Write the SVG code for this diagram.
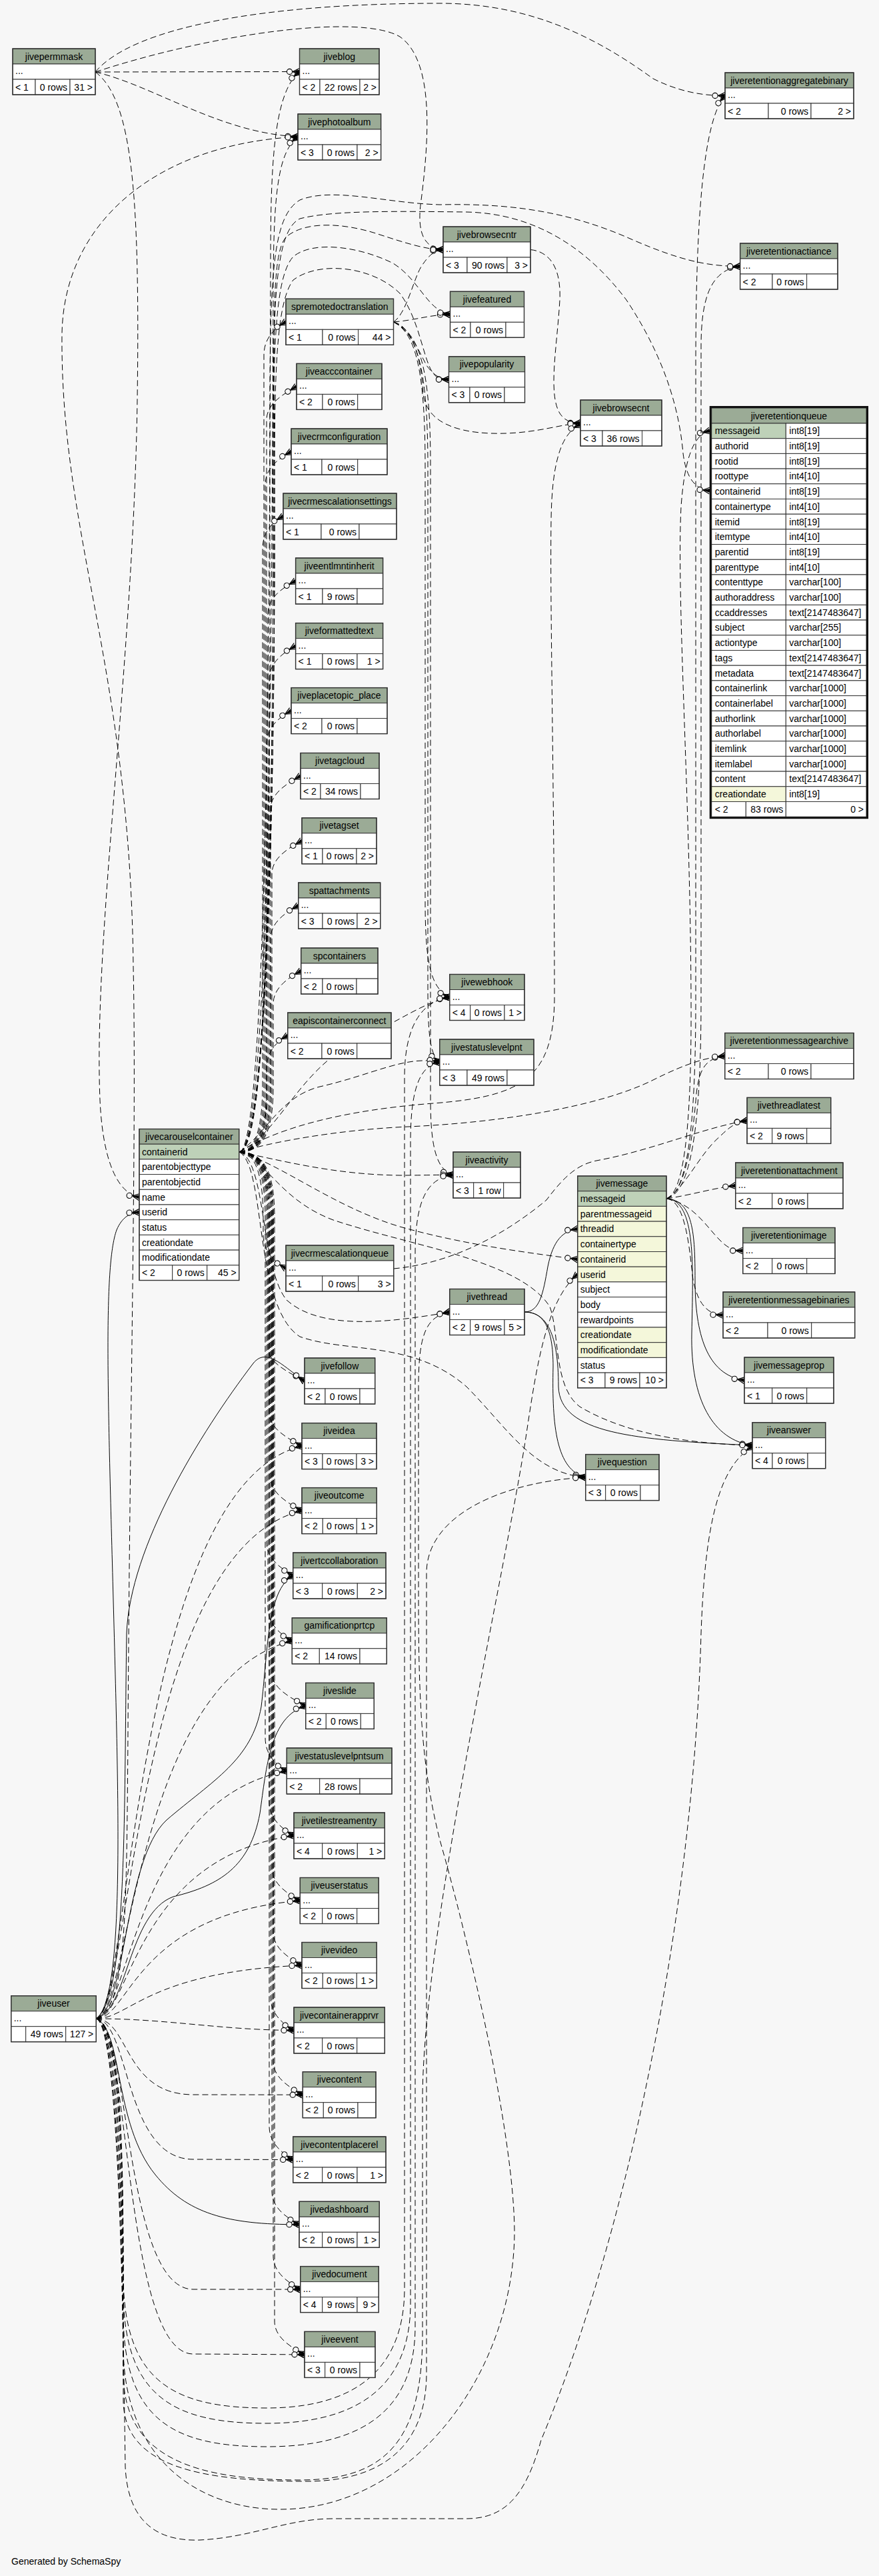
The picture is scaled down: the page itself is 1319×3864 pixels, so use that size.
<svg xmlns="http://www.w3.org/2000/svg" width="1319" height="3864" viewBox="0 0 1319 3864">
<style>
text{font-family:"Liberation Sans",Arial,Helvetica,sans-serif;font-size:14px;fill:#000}
.c{text-anchor:middle}
.r{text-anchor:end}
.h{fill:#9bab96;stroke:#333;stroke-width:1}
.w{fill:#fff;stroke:#333;stroke-width:1}
.k{fill:#bed1b8;stroke:#333;stroke-width:1}
.i{fill:#f4f7da;stroke:#333;stroke-width:1}
.o{fill:none;stroke:#333;stroke-width:1.4}
.e{fill:none;stroke:#000;stroke-width:1;marker-end:url(#cf)}
.d{stroke-dasharray:9,5}
</style>
<defs>
<marker id="cf" markerUnits="userSpaceOnUse" markerWidth="26" markerHeight="16" refX="23" refY="8" orient="auto" overflow="visible">
<circle cx="8" cy="8" r="4.1" fill="#f7f7f7" stroke="#000" stroke-width="1.1"/>
<path d="M12.5,8 L23,8 M12.5,8 L23,3 M12.5,8 L23,13" stroke="#000" stroke-width="1.2" fill="none"/>
<path d="M12.5,8 L23,5 L23,11 Z" fill="#000"/>
</marker>
</defs>
<rect width="1319" height="3864" fill="#f7f7f7"/>
<g id="edges">
<path class="e d" d="M143,108 L449.5,107.5"/>
<path class="e d" d="M143,108 C230,128 330,200 447,205"/>
<path class="e d" d="M143,108 C200,40 400,5 660,5 C800,5 900,60 980,118 C1020,138 1055,143.5 1088,143.5"/>
<path class="e d" d="M143,108 C320,50 540,20 600,55 C650,90 645,200 632,300 C624,355 640,372 665,374.5"/>
<path class="e d" d="M143,108 C200,150 210,300 206,600 C200,1000 140,1400 150,1650 C155,1760 185,1792 209,1795.6"/>
<path class="e d" d="M144,3028 C188,3010 190,2900 192,2600 C195,2100 205,1700 200,1450 C195,1000 90,800 93,500 C96,330 240,215 447,205.2"/>
<path class="e d" d="M1000,1798 C1025,1790 1038,1700 1037,1500 C1036,1200 1015,900 1022,760 C1027,690 1040,652 1065,646"/>
<path class="e d" d="M1000,1798 C1030,1790 1044,1700 1044,1500 L1044,550 C1044,330 1055,180 1088,143.5"/>
<path class="e d" d="M1000,1798 C1035,1790 1052,1700 1052,1500 L1052,520 C1052,450 1065,405 1110.6,399.5"/>
<path class="e d" d="M1000,1798 C1030,1790 1040,1700 1045,1640 C1050,1600 1060,1588 1087.7,1584"/>
<path class="e d" d="M1000,1798 C1030,1780 1050,1730 1080,1705 C1095,1690 1105,1683 1121,1681"/>
<path class="e d" d="M1000,1798 C1040,1792 1070,1782 1103.7,1778.5"/>
<path class="e d" d="M1000,1798 C1040,1805 1060,1840 1080,1860 C1092,1872 1100,1876 1114.7,1876"/>
<path class="e d" d="M1000,1798 C1030,1800 1035,1880 1040,1920 C1048,1960 1065,1972 1085,1972.5"/>
<path class="e" d="M1000,1798 C1040,1800 1043,1850 1043,1920 C1043,2000 1060,2062 1117,2070.5"/>
<path class="e" d="M1000,1798 C1045,1800 1040,1900 1038,2000 C1036,2100 1070,2160 1129,2168"/>
<path class="e" d="M787,1968 C810,1968 815,1940 822,1900 C830,1860 845,1846 866.7,1843.5"/>
<path class="e" d="M787,1968 C815,1968 830,1990 830,2050 C828,2140 835,2205 878.7,2216"/>
<path class="e" d="M787,1968 C820,1968 838,2000 838,2080 C840,2150 950,2160 1129,2168"/>
<path class="e d" d="M590.7,1903 C680,1895 760,1850 820,1800 C850,1760 870,1745 900,1740 C980,1725 1060,1690 1121,1681"/>
<path class="e d" d="M796,374.5 C830,378 842,410 840,450 C836,520 822,590 840,620 C848,632 858,634.5 871,634.5"/>
<path class="e d" d="M590.5,483 C610,470 620,420 632,400 C642,385 650,376 665,374.5"/>
<path class="e d" d="M590.5,483 C625,480 645,472 675.5,471.8"/>
<path class="e d" d="M590.5,483 C615,495 628,525 640,548 C650,562 660,569 673.5,569.3"/>
<path class="e d" d="M590.5,483 C620,490 632,540 635,590 C640,640 700,652 760,650 C810,648 840,637 871,634.5"/>
<path class="e d" d="M590.5,483 C625,500 638,560 638,700 L638,1350 C638,1440 645,1482 674.7,1496"/>
<path class="e d" d="M590.5,483 C628,500 642,560 642,700 L642,1480 C642,1550 645,1582 659.7,1593.5"/>
<path class="e d" d="M590.5,483 C632,500 646,560 646,700 L646,1650 C646,1720 655,1755 680,1762.5"/>
<path class="e d" d="M359,1728 C405,1728 405,700 406,400 C406,250 410,140 449.5,107.5"/>
<path class="e d" d="M359,1728 C408,1728 408,800 410,450 C410,300 415,230 447,205.2"/>
<path class="e d" d="M359,1728 C405,1728 405,1200 405,800 C405,450 400,330 450,300 C500,280 580,305 660,307 C760,305 850,315 950,360 C1020,390 1060,399.5 1110.6,399.5"/>
<path class="e d" d="M359,1728 C400,1728 410,1200 410,800 C410,500 405,350 450,328 C500,315 600,317 700,318 C800,320 880,370 940,450 C1000,540 1020,620 1025,680 C1030,720 1045,734 1065,736"/>
<path class="e d" d="M359,1728 C400,1728 412,1200 412,800 C412,500 405,380 430,355 C460,330 520,335 570,352 C610,365 640,374.5 665,374.5"/>
<path class="e d" d="M359,1728 C400,1728 410,1200 410,800 C410,560 408,420 440,385 C470,360 540,370 590,395 C630,420 640,465 675.5,471.8"/>
<path class="e d" d="M359,1728 C400,1728 412,1200 412,800 C412,600 410,460 440,420 C480,390 560,400 600,440 C630,480 635,540 650,560 C655,567 662,569.3 673.5,569.3"/>
<path class="e d" d="M359,1728 C420,1690 520,1665 650,1655 C780,1645 830,1620 832,1500 C832,1200 825,900 827,780 C828,700 840,650 871,637"/>
<path class="e d" d="M359,1728 C420,1700 450,1600 540,1560 C600,1530 640,1502 674.7,1496"/>
<path class="e d" d="M359,1728 C400,1700 420,1645 480,1630 C560,1612 610,1582 659.7,1593.5"/>
<path class="e d" d="M359,1728 C420,1740 500,1762 600,1763 C640,1763 660,1762 680,1762.5"/>
<path class="e d" d="M359,1728 C400,1740 390,1900 430,1950 C480,1995 580,1985 674.7,1968"/>
<path class="e d" d="M359,1728 C420,1745 500,1810 600,1840 C700,1868 800,1880 866.7,1889"/>
<path class="e d" d="M359,1728 C400,1750 380,1960 450,2005 C520,2030 620,2010 700,2080 C760,2140 800,2210 878.7,2216"/>
<path class="e d" d="M359,1728 C400,1740 420,1800 500,1830 C620,1870 780,1890 825,1960 C840,2000 830,2080 870,2110 C920,2140 1000,2165 1129,2168"/>
<path class="e d" d="M359,1728 C400,1715 500,1695 613,1690 C750,1684 900,1660 980,1620 C1030,1595 1060,1586 1087.7,1584"/>
<path class="e d" d="M359,1728 C385,1728 395,1768 395,1828 L395,1852 C395,1877 411,1892 429,1902.5"/>
<path class="e d" d="M359,1728 C386,1728 396,1688 396,1628 L396,533 C396,508 411,493 429,482.8"/>
<path class="e d" d="M359,1728 C390,1728 400,1688 400,1628 L400,630 C400,605 427,590 445,579.9"/>
<path class="e d" d="M359,1728 C388,1728 398,1688 398,1628 L398,727 C398,702 419,687 437,677.5"/>
<path class="e d" d="M359,1728 C384,1728 394,1688 394,1628 L394,824 C394,799 407,784 425,774.5"/>
<path class="e d" d="M359,1728 C392,1728 402,1688 402,1628 L402,921 C402,896 425,881 443.6,871.5"/>
<path class="e d" d="M359,1728 C394,1728 404,1688 404,1628 L404,1019 C404,994 425,979 443.6,969.1"/>
<path class="e d" d="M359,1728 C390,1728 400,1688 400,1628 L400,1116 C400,1091 419,1076 437,1066.1"/>
<path class="e d" d="M359,1728 C396,1728 406,1688 406,1628 L406,1214 C406,1189 433,1174 451,1164"/>
<path class="e d" d="M359,1728 C398,1728 408,1688 408,1628 L408,1311 C408,1286 435,1271 453,1261.3"/>
<path class="e d" d="M359,1728 C396,1728 406,1688 406,1628 L406,1408 C406,1383 430,1368 447.7,1358.5"/>
<path class="e d" d="M359,1728 C400,1728 410,1688 410,1628 L410,1506 C410,1481 434,1466 451.7,1456.5"/>
<path class="e d" d="M359,1728 C390,1728 400,1700 400,1640 L400,1603 C400,1578 414,1563 431.7,1553.5"/>
<path class="e d" d="M359,1728 C392,1728 402,1768 402,1828 L402,2021 C402,2046 439,2061 457,2071.5"/>
<path class="e d" d="M359,1728 C394,1728 404,1768 404,1828 L404,2119 C404,2144 435,2159 453,2169.1"/>
<path class="e d" d="M359,1728 C396,1728 406,1768 406,1828 L406,2216 C406,2241 435,2256 453,2266.1"/>
<path class="e d" d="M359,1728 C390,1728 400,1768 400,1828 L400,2313 C400,2338 422,2353 439.7,2363.5"/>
<path class="e d" d="M359,1728 C392,1728 402,1768 402,1828 L402,2411 C402,2436 420,2451 438.3,2461.3"/>
<path class="e d" d="M359,1728 C398,1728 408,1768 408,1828 L408,2509 C408,2534 441,2549 458.7,2558.9"/>
<path class="e d" d="M359,1728 C388,1728 398,1768 398,1828 L398,2606 C398,2631 412,2646 430.3,2656.5"/>
<path class="e d" d="M359,1728 C394,1728 404,1768 404,1828 L404,2703 C404,2728 423,2743 441,2753.5"/>
<path class="e d" d="M359,1728 C398,1728 408,1768 408,1828 L408,2801 C408,2826 432,2841 450.3,2851"/>
<path class="e d" d="M359,1728 C400,1728 410,1768 410,1828 L410,2898 C410,2923 435,2938 453,2948"/>
<path class="e d" d="M359,1728 C396,1728 406,1768 406,1828 L406,2995 C406,3020 423,3035 441,3045.5"/>
<path class="e d" d="M359,1728 C400,1728 410,1768 410,1828 L410,3092 C410,3117 436,3132 454.3,3142.2"/>
<path class="e d" d="M359,1728 C394,1728 404,1768 404,1828 L404,3189 C404,3214 422,3229 439.7,3239.5"/>
<path class="e d" d="M359,1728 C398,1728 408,1768 408,1828 L408,3287 C408,3312 431,3327 449,3336.8"/>
<path class="e d" d="M359,1728 C400,1728 410,1768 410,1828 L410,3384 C410,3409 433,3424 450.7,3434.1"/>
<path class="e d" d="M359,1728 C402,1728 412,1768 412,1828 L412,3482 C412,3507 439,3522 457,3531.9"/>
<path class="e d" d="M144,3028 C195,3028 200,2229 453,2169.1"/>
<path class="e d" d="M144,3028 C195,3028 200,2326 453,2266.1"/>
<path class="e d" d="M144,3028 C195,3028 200,2521 438.3,2461.3"/>
<path class="e d" d="M144,3028 C195,3028 200,2701 430.3,2656.5"/>
<path class="e d" d="M144,3028 C195,3028 200,2787 441,2753.5"/>
<path class="e d" d="M144,3028 C195,3028 200,2872 450.3,2851"/>
<path class="e d" d="M144,3028 C195,3028 220,2958 453,2948"/>
<path class="e d" d="M144,3028 C250,3028 330,3045 441,3045.5"/>
<path class="e d" d="M144,3028 C195,3030 185,3142 290,3142 L454.3,3142.2"/>
<path class="e d" d="M144,3028 C195,3030 185,3239 290,3239 L439.7,3239.5"/>
<path class="e d" d="M144,3028 C195,3030 185,3434 290,3434 L450.7,3434.1"/>
<path class="e d" d="M144,3028 C195,3030 185,3531 290,3531 L457,3531.9"/>
<path class="e" d="M144,3028 C188,3000 178,2700 170,2400 C162,2100 155,1900 175,1845 C183,1826 195,1819 209,1818.4"/>
<path class="e" d="M144,3028 C192,3000 186,2700 190,2450 C195,2320 300,2150 380,2045 C400,2020 425,2050 457,2071.5"/>
<path class="e" d="M144,3028 C190,3015 185,2790 250,2730 C320,2670 378,2640 392,2560 C402,2480 400,2385 439.7,2363.5"/>
<path class="e" d="M144,3028 C192,3015 192,2870 260,2845 C330,2828 375,2800 390,2720 C400,2650 405,2575 458.7,2558.9"/>
<path class="e" d="M144,3028 C185,3045 170,3185 233,3262 C280,3320 340,3337 449,3336.8"/>
<path class="e d" d="M144,3028 C180,3035 185,3200 185,3412 C185,3572 260,3612 400,3612 C510,3612 607,3572 607,3432 L607,1616 C607,1536 635,1501 674.7,1496"/>
<path class="e d" d="M144,3028 C180,3035 185,3230 185,3435 C185,3595 260,3635 400,3635 C516,3635 616,3595 616,3455 L616,1713 C616,1633 630,1598 659.7,1593.5"/>
<path class="e d" d="M144,3028 C180,3035 185,3260 185,3470 C185,3630 260,3670 400,3670 C523,3670 623,3630 623,3490 L623,1882 C623,1802 640,1767 680,1762.5"/>
<path class="e d" d="M144,3028 C180,3035 185,3320 185,3520 C185,3690 300,3764 420,3764 C620,3764 770,3560 772,3350 C772,3200 700,2900 660,2760 C635,2660 628,2571 628,2400 L628,2080 C628,2000 640,1975 674.7,1968"/>
<path class="e d" d="M144,3028 C180,3035 185,3380 185,3560 C185,3690 300,3720 450,3720 C580,3720 634,3660 634,3500 L634,3150 C634,2900 760,2350 790,2150 C805,2050 820,1950 866.7,1911.5"/>
<path class="e d" d="M144,3028 C180,3035 185,3450 185,3600 C185,3700 300,3722 460,3722 C560,3722 640,3680 640,3560 L640,2360 C640,2270 760,2222 878.7,2216"/>
<path class="e d" d="M144,3028 C180,3035 185,3500 188,3700 C192,3795 250,3812 300,3810 C380,3806 430,3778 500,3778 L700,3778 C760,3778 790,3740 812,3660 C930,3380 1040,2900 1052,2450 C1058,2280 1080,2200 1129,2170"/>
</g>
<g id="jivepermmask" transform="translate(19,73)"><rect class="h" width="124" height="23"/><text class="c" x="62" y="16.5">jivepermmask</text><rect class="w" y="23" width="124" height="23"/><text x="4" y="38">...</text><rect class="w" y="46" width="34" height="23"/><rect class="w" x="34" y="46" width="52" height="23"/><rect class="w" x="86" y="46" width="38" height="23"/><text x="4" y="62.5">&lt; 1</text><text class="r" x="82" y="62.5">0 rows</text><text class="r" x="120" y="62.5">31 &gt;</text><rect class="o" width="124" height="69"/></g>
<g id="jiveblog" transform="translate(449.5,73)"><rect class="h" width="119.5" height="23"/><text class="c" x="59.75" y="16.5">jiveblog</text><rect class="w" y="23" width="119.5" height="23"/><text x="4" y="38">...</text><rect class="w" y="46" width="30.5" height="23"/><rect class="w" x="30.5" y="46" width="60" height="23"/><rect class="w" x="90.5" y="46" width="29" height="23"/><text x="4" y="62.5">&lt; 2</text><text class="r" x="86.5" y="62.5">22 rows</text><text class="r" x="115.5" y="62.5">2 &gt;</text><rect class="o" width="119.5" height="69"/></g>
<g id="jivephotoalbum" transform="translate(447,171)"><rect class="h" width="124.6" height="23"/><text class="c" x="62.3" y="16.5">jivephotoalbum</text><rect class="w" y="23" width="124.6" height="23"/><text x="4" y="38">...</text><rect class="w" y="46" width="37" height="23"/><rect class="w" x="37" y="46" width="52" height="23"/><rect class="w" x="89" y="46" width="35.6" height="23"/><text x="4" y="62.5">&lt; 3</text><text class="r" x="85" y="62.5">0 rows</text><text class="r" x="120.6" y="62.5">2 &gt;</text><rect class="o" width="124.6" height="69"/></g>
<g id="jiveretentionaggregatebinary" transform="translate(1088,109)"><rect class="h" width="193" height="23"/><text class="c" x="96.5" y="16.5">jiveretentionaggregatebinary</text><rect class="w" y="23" width="193" height="23"/><text x="4" y="38">...</text><rect class="w" y="46" width="65" height="23"/><rect class="w" x="65" y="46" width="64" height="23"/><rect class="w" x="129" y="46" width="64" height="23"/><text x="4" y="62.5">&lt; 2</text><text class="r" x="125" y="62.5">0 rows</text><text class="r" x="189" y="62.5">2 &gt;</text><rect class="o" width="193" height="69"/></g>
<g id="jivebrowsecntr" transform="translate(665,340)"><rect class="h" width="131" height="23"/><text class="c" x="65.5" y="16.5">jivebrowsecntr</text><rect class="w" y="23" width="131" height="23"/><text x="4" y="38">...</text><rect class="w" y="46" width="36" height="23"/><rect class="w" x="36" y="46" width="60" height="23"/><rect class="w" x="96" y="46" width="35" height="23"/><text x="4" y="62.5">&lt; 3</text><text class="r" x="92" y="62.5">90 rows</text><text class="r" x="127" y="62.5">3 &gt;</text><rect class="o" width="131" height="69"/></g>
<g id="jiveretentionactiance" transform="translate(1110.6,365)"><rect class="h" width="146.4" height="23"/><text class="c" x="73.2" y="16.5">jiveretentionactiance</text><rect class="w" y="23" width="146.4" height="23"/><text x="4" y="38">...</text><rect class="w" y="46" width="48.4" height="23"/><rect class="w" x="48.4" y="46" width="51.6" height="23"/><rect class="w" x="100" y="46" width="46.4" height="23"/><text x="4" y="62.5">&lt; 2</text><text class="r" x="96" y="62.5">0 rows</text><rect class="o" width="146.4" height="69"/></g>
<g id="spremotedoctranslation" transform="translate(429,448.3)"><rect class="h" width="161.5" height="23"/><text class="c" x="80.75" y="16.5">spremotedoctranslation</text><rect class="w" y="23" width="161.5" height="23"/><text x="4" y="38">...</text><rect class="w" y="46" width="55" height="23"/><rect class="w" x="55" y="46" width="53.5" height="23"/><rect class="w" x="108.5" y="46" width="53" height="23"/><text x="4" y="62.5">&lt; 1</text><text class="r" x="104.5" y="62.5">0 rows</text><text class="r" x="157.5" y="62.5">44 &gt;</text><rect class="o" width="161.5" height="69"/></g>
<g id="jivefeatured" transform="translate(675.5,437.3)"><rect class="h" width="111" height="23"/><text class="c" x="55.5" y="16.5">jivefeatured</text><rect class="w" y="23" width="111" height="23"/><text x="4" y="38">...</text><rect class="w" y="46" width="30.5" height="23"/><rect class="w" x="30.5" y="46" width="53" height="23"/><rect class="w" x="83.5" y="46" width="27.5" height="23"/><text x="4" y="62.5">&lt; 2</text><text class="r" x="79.5" y="62.5">0 rows</text><rect class="o" width="111" height="69"/></g>
<g id="jivepopularity" transform="translate(673.5,534.8)"><rect class="h" width="114" height="23"/><text class="c" x="57" y="16.5">jivepopularity</text><rect class="w" y="23" width="114" height="23"/><text x="4" y="38">...</text><rect class="w" y="46" width="31.5" height="23"/><rect class="w" x="31.5" y="46" width="52" height="23"/><rect class="w" x="83.5" y="46" width="30.5" height="23"/><text x="4" y="62.5">&lt; 3</text><text class="r" x="79.5" y="62.5">0 rows</text><rect class="o" width="114" height="69"/></g>
<g id="jivebrowsecnt" transform="translate(871,600)"><rect class="h" width="122" height="23"/><text class="c" x="61" y="16.5">jivebrowsecnt</text><rect class="w" y="23" width="122" height="23"/><text x="4" y="38">...</text><rect class="w" y="46" width="33" height="23"/><rect class="w" x="33" y="46" width="59.5" height="23"/><rect class="w" x="92.5" y="46" width="29.5" height="23"/><text x="4" y="62.5">&lt; 3</text><text class="r" x="88.5" y="62.5">36 rows</text><rect class="o" width="122" height="69"/></g>
<g id="jiveacccontainer" transform="translate(445,545.4)"><rect class="h" width="128" height="23"/><text class="c" x="64" y="16.5">jiveacccontainer</text><rect class="w" y="23" width="128" height="23"/><text x="4" y="38">...</text><rect class="w" y="46" width="39" height="23"/><rect class="w" x="39" y="46" width="52.7" height="23"/><rect class="w" x="91.7" y="46" width="36.3" height="23"/><text x="4" y="62.5">&lt; 2</text><text class="r" x="87.7" y="62.5">0 rows</text><rect class="o" width="128" height="69"/></g>
<g id="jivecrmconfiguration" transform="translate(437,643)"><rect class="h" width="144" height="23"/><text class="c" x="72" y="16.5">jivecrmconfiguration</text><rect class="w" y="23" width="144" height="23"/><text x="4" y="38">...</text><rect class="w" y="46" width="46" height="23"/><rect class="w" x="46" y="46" width="53.7" height="23"/><rect class="w" x="99.7" y="46" width="44.3" height="23"/><text x="4" y="62.5">&lt; 1</text><text class="r" x="95.7" y="62.5">0 rows</text><rect class="o" width="144" height="69"/></g>
<g id="jivecrmescalationsettings" transform="translate(425,740)"><rect class="h" width="170" height="23"/><text class="c" x="85" y="16.5">jivecrmescalationsettings</text><rect class="w" y="23" width="170" height="23"/><text x="4" y="38">...</text><rect class="w" y="46" width="57" height="23"/><rect class="w" x="57" y="46" width="57" height="23"/><rect class="w" x="114" y="46" width="56" height="23"/><text x="4" y="62.5">&lt; 1</text><text class="r" x="110" y="62.5">0 rows</text><rect class="o" width="170" height="69"/></g>
<g id="jiveentlmntinherit" transform="translate(443.6,837)"><rect class="h" width="131" height="23"/><text class="c" x="65.5" y="16.5">jiveentlmntinherit</text><rect class="w" y="23" width="131" height="23"/><text x="4" y="38">...</text><rect class="w" y="46" width="40.4" height="23"/><rect class="w" x="40.4" y="46" width="52" height="23"/><rect class="w" x="92.4" y="46" width="38.6" height="23"/><text x="4" y="62.5">&lt; 1</text><text class="r" x="88.4" y="62.5">9 rows</text><rect class="o" width="131" height="69"/></g>
<g id="jiveformattedtext" transform="translate(443.6,934.6)"><rect class="h" width="131" height="23"/><text class="c" x="65.5" y="16.5">jiveformattedtext</text><rect class="w" y="23" width="131" height="23"/><text x="4" y="38">...</text><rect class="w" y="46" width="40.4" height="23"/><rect class="w" x="40.4" y="46" width="52" height="23"/><rect class="w" x="92.4" y="46" width="38.6" height="23"/><text x="4" y="62.5">&lt; 1</text><text class="r" x="88.4" y="62.5">0 rows</text><text class="r" x="127" y="62.5">1 &gt;</text><rect class="o" width="131" height="69"/></g>
<g id="jiveplacetopic_place" transform="translate(437,1031.6)"><rect class="h" width="144" height="23"/><text class="c" x="72" y="16.5">jiveplacetopic_place</text><rect class="w" y="23" width="144" height="23"/><text x="4" y="38">...</text><rect class="w" y="46" width="46" height="23"/><rect class="w" x="46" y="46" width="53" height="23"/><rect class="w" x="99" y="46" width="45" height="23"/><text x="4" y="62.5">&lt; 2</text><text class="r" x="95" y="62.5">0 rows</text><rect class="o" width="144" height="69"/></g>
<g id="jivetagcloud" transform="translate(451,1129.5)"><rect class="h" width="118" height="23"/><text class="c" x="59" y="16.5">jivetagcloud</text><rect class="w" y="23" width="118" height="23"/><text x="4" y="38">...</text><rect class="w" y="46" width="30" height="23"/><rect class="w" x="30" y="46" width="60" height="23"/><rect class="w" x="90" y="46" width="28" height="23"/><text x="4" y="62.5">&lt; 2</text><text class="r" x="86" y="62.5">34 rows</text><rect class="o" width="118" height="69"/></g>
<g id="jivetagset" transform="translate(453,1226.8)"><rect class="h" width="112" height="23"/><text class="c" x="56" y="16.5">jivetagset</text><rect class="w" y="23" width="112" height="23"/><text x="4" y="38">...</text><rect class="w" y="46" width="31" height="23"/><rect class="w" x="31" y="46" width="51" height="23"/><rect class="w" x="82" y="46" width="30" height="23"/><text x="4" y="62.5">&lt; 1</text><text class="r" x="78" y="62.5">0 rows</text><text class="r" x="108" y="62.5">2 &gt;</text><rect class="o" width="112" height="69"/></g>
<g id="spattachments" transform="translate(447.7,1324)"><rect class="h" width="123" height="23"/><text class="c" x="61.5" y="16.5">spattachments</text><rect class="w" y="23" width="123" height="23"/><text x="4" y="38">...</text><rect class="w" y="46" width="36.3" height="23"/><rect class="w" x="36.3" y="46" width="52" height="23"/><rect class="w" x="88.3" y="46" width="34.7" height="23"/><text x="4" y="62.5">&lt; 3</text><text class="r" x="84.3" y="62.5">0 rows</text><text class="r" x="119" y="62.5">2 &gt;</text><rect class="o" width="123" height="69"/></g>
<g id="spcontainers" transform="translate(451.7,1422)"><rect class="h" width="115.3" height="23"/><text class="c" x="57.65" y="16.5">spcontainers</text><rect class="w" y="23" width="115.3" height="23"/><text x="4" y="38">...</text><rect class="w" y="46" width="32.3" height="23"/><rect class="w" x="32.3" y="46" width="51" height="23"/><rect class="w" x="83.3" y="46" width="32" height="23"/><text x="4" y="62.5">&lt; 2</text><text class="r" x="79.3" y="62.5">0 rows</text><rect class="o" width="115.3" height="69"/></g>
<g id="eapiscontainerconnect" transform="translate(431.7,1519)"><rect class="h" width="155.3" height="23"/><text class="c" x="77.65" y="16.5">eapiscontainerconnect</text><rect class="w" y="23" width="155.3" height="23"/><text x="4" y="38">...</text><rect class="w" y="46" width="51.3" height="23"/><rect class="w" x="51.3" y="46" width="52.7" height="23"/><rect class="w" x="104" y="46" width="51.3" height="23"/><text x="4" y="62.5">&lt; 2</text><text class="r" x="100" y="62.5">0 rows</text><rect class="o" width="155.3" height="69"/></g>
<g id="jivewebhook" transform="translate(674.7,1461.5)"><rect class="h" width="112.3" height="23"/><text class="c" x="56.15" y="16.5">jivewebhook</text><rect class="w" y="23" width="112.3" height="23"/><text x="4" y="38">...</text><rect class="w" y="46" width="31" height="23"/><rect class="w" x="31" y="46" width="51.3" height="23"/><rect class="w" x="82.3" y="46" width="30" height="23"/><text x="4" y="62.5">&lt; 4</text><text class="r" x="78.3" y="62.5">0 rows</text><text class="r" x="108.3" y="62.5">1 &gt;</text><rect class="o" width="112.3" height="69"/></g>
<g id="jivestatuslevelpnt" transform="translate(659.7,1559)"><rect class="h" width="141.3" height="23"/><text class="c" x="70.65" y="16.5">jivestatuslevelpnt</text><rect class="w" y="23" width="141.3" height="23"/><text x="4" y="38">...</text><rect class="w" y="46" width="41.3" height="23"/><rect class="w" x="41.3" y="46" width="60" height="23"/><rect class="w" x="101.3" y="46" width="40" height="23"/><text x="4" y="62.5">&lt; 3</text><text class="r" x="97.3" y="62.5">49 rows</text><rect class="o" width="141.3" height="69"/></g>
<g id="jiveretentionmessagearchive" transform="translate(1087.7,1549.5)"><rect class="h" width="193.3" height="23"/><text class="c" x="96.65" y="16.5">jiveretentionmessagearchive</text><rect class="w" y="23" width="193.3" height="23"/><text x="4" y="38">...</text><rect class="w" y="46" width="65.3" height="23"/><rect class="w" x="65.3" y="46" width="64" height="23"/><rect class="w" x="129.3" y="46" width="64" height="23"/><text x="4" y="62.5">&lt; 2</text><text class="r" x="125.3" y="62.5">0 rows</text><rect class="o" width="193.3" height="69"/></g>
<g id="jivethreadlatest" transform="translate(1121,1646.4)"><rect class="h" width="125.7" height="23"/><text class="c" x="62.85" y="16.5">jivethreadlatest</text><rect class="w" y="23" width="125.7" height="23"/><text x="4" y="38">...</text><rect class="w" y="46" width="37.7" height="23"/><rect class="w" x="37.7" y="46" width="52" height="23"/><rect class="w" x="89.7" y="46" width="36" height="23"/><text x="4" y="62.5">&lt; 2</text><text class="r" x="85.7" y="62.5">9 rows</text><rect class="o" width="125.7" height="69"/></g>
<g id="jivecarouselcontainer" transform="translate(209,1693.5)"><rect class="h" width="149.7" height="22.7"/><text class="c" x="74.85" y="16.3">jivecarouselcontainer</text><rect class="k" y="22.7" width="149.7" height="22.7"/><text x="4" y="39">containerid</text><rect class="w" y="45.4" width="149.7" height="22.7"/><text x="4" y="61.7">parentobjecttype</text><rect class="w" y="68.1" width="149.7" height="22.7"/><text x="4" y="84.4">parentobjectid</text><rect class="w" y="90.8" width="149.7" height="22.7"/><text x="4" y="107.1">name</text><rect class="w" y="113.5" width="149.7" height="22.7"/><text x="4" y="129.8">userid</text><rect class="w" y="136.2" width="149.7" height="22.7"/><text x="4" y="152.5">status</text><rect class="w" y="158.9" width="149.7" height="22.7"/><text x="4" y="175.2">creationdate</text><rect class="w" y="181.6" width="149.7" height="22.7"/><text x="4" y="197.9">modificationdate</text><rect class="w" y="204.3" width="49.7" height="22.7"/><rect class="w" x="49.7" y="204.3" width="52" height="22.7"/><rect class="w" x="101.7" y="204.3" width="48" height="22.7"/><text x="4" y="220.6">&lt; 2</text><text class="r" x="97.7" y="220.6">0 rows</text><text class="r" x="145.7" y="220.6">45 &gt;</text><rect class="o" width="149.7" height="227"/></g>
<g id="jiveactivity" transform="translate(680,1728)"><rect class="h" width="101" height="23"/><text class="c" x="50.5" y="16.5">jiveactivity</text><rect class="w" y="23" width="101" height="23"/><text x="4" y="38">...</text><rect class="w" y="46" width="30.7" height="23"/><rect class="w" x="30.7" y="46" width="45" height="23"/><rect class="w" x="75.7" y="46" width="25.3" height="23"/><text x="4" y="62.5">&lt; 3</text><text class="r" x="71.7" y="62.5">1 row</text><rect class="o" width="101" height="69"/></g>
<g id="jivemessage" transform="translate(866.7,1764)"><rect class="h" width="133.3" height="22.7"/><text class="c" x="66.65" y="16.3">jivemessage</text><rect class="k" y="22.7" width="133.3" height="22.7"/><text x="4" y="39">messageid</text><rect class="i" y="45.4" width="133.3" height="22.7"/><text x="4" y="61.7">parentmessageid</text><rect class="i" y="68.1" width="133.3" height="22.7"/><text x="4" y="84.4">threadid</text><rect class="i" y="90.8" width="133.3" height="22.7"/><text x="4" y="107.1">containertype</text><rect class="i" y="113.5" width="133.3" height="22.7"/><text x="4" y="129.8">containerid</text><rect class="i" y="136.2" width="133.3" height="22.7"/><text x="4" y="152.5">userid</text><rect class="w" y="158.9" width="133.3" height="22.7"/><text x="4" y="175.2">subject</text><rect class="w" y="181.6" width="133.3" height="22.7"/><text x="4" y="197.9">body</text><rect class="w" y="204.3" width="133.3" height="22.7"/><text x="4" y="220.6">rewardpoints</text><rect class="i" y="227" width="133.3" height="22.7"/><text x="4" y="243.3">creationdate</text><rect class="i" y="249.7" width="133.3" height="22.7"/><text x="4" y="266">modificationdate</text><rect class="w" y="272.4" width="133.3" height="22.7"/><text x="4" y="288.7">status</text><rect class="w" y="295.1" width="41.3" height="22.7"/><rect class="w" x="41.3" y="295.1" width="52" height="22.7"/><rect class="w" x="93.3" y="295.1" width="40" height="22.7"/><text x="4" y="311.4">&lt; 3</text><text class="r" x="89.3" y="311.4">9 rows</text><text class="r" x="129.3" y="311.4">10 &gt;</text><rect class="o" width="133.3" height="317.8"/></g>
<g id="jiveretentionqueue" transform="translate(1067.7,612)"><rect class="h" width="232.3" height="23"/><text class="c" x="116.15" y="16.5">jiveretentionqueue</text>
<rect class="k" y="23" width="111.6" height="22.7"/><rect class="w" x="111.6" y="23" width="120.7" height="22.7"/><text x="5" y="39.3">messageid</text><text x="116.6" y="39.3">int8[19]</text>
<rect class="w" y="45.7" width="111.6" height="22.7"/><rect class="w" x="111.6" y="45.7" width="120.7" height="22.7"/><text x="5" y="62">authorid</text><text x="116.6" y="62">int8[19]</text>
<rect class="w" y="68.4" width="111.6" height="22.7"/><rect class="w" x="111.6" y="68.4" width="120.7" height="22.7"/><text x="5" y="84.7">rootid</text><text x="116.6" y="84.7">int8[19]</text>
<rect class="w" y="91.1" width="111.6" height="22.7"/><rect class="w" x="111.6" y="91.1" width="120.7" height="22.7"/><text x="5" y="107.4">roottype</text><text x="116.6" y="107.4">int4[10]</text>
<rect class="w" y="113.8" width="111.6" height="22.7"/><rect class="w" x="111.6" y="113.8" width="120.7" height="22.7"/><text x="5" y="130.1">containerid</text><text x="116.6" y="130.1">int8[19]</text>
<rect class="w" y="136.5" width="111.6" height="22.7"/><rect class="w" x="111.6" y="136.5" width="120.7" height="22.7"/><text x="5" y="152.8">containertype</text><text x="116.6" y="152.8">int4[10]</text>
<rect class="w" y="159.2" width="111.6" height="22.7"/><rect class="w" x="111.6" y="159.2" width="120.7" height="22.7"/><text x="5" y="175.5">itemid</text><text x="116.6" y="175.5">int8[19]</text>
<rect class="w" y="181.9" width="111.6" height="22.7"/><rect class="w" x="111.6" y="181.9" width="120.7" height="22.7"/><text x="5" y="198.2">itemtype</text><text x="116.6" y="198.2">int4[10]</text>
<rect class="w" y="204.6" width="111.6" height="22.7"/><rect class="w" x="111.6" y="204.6" width="120.7" height="22.7"/><text x="5" y="220.9">parentid</text><text x="116.6" y="220.9">int8[19]</text>
<rect class="w" y="227.3" width="111.6" height="22.7"/><rect class="w" x="111.6" y="227.3" width="120.7" height="22.7"/><text x="5" y="243.6">parenttype</text><text x="116.6" y="243.6">int4[10]</text>
<rect class="w" y="250" width="111.6" height="22.7"/><rect class="w" x="111.6" y="250" width="120.7" height="22.7"/><text x="5" y="266.3">contenttype</text><text x="116.6" y="266.3">varchar[100]</text>
<rect class="w" y="272.7" width="111.6" height="22.7"/><rect class="w" x="111.6" y="272.7" width="120.7" height="22.7"/><text x="5" y="289">authoraddress</text><text x="116.6" y="289">varchar[100]</text>
<rect class="w" y="295.4" width="111.6" height="22.7"/><rect class="w" x="111.6" y="295.4" width="120.7" height="22.7"/><text x="5" y="311.7">ccaddresses</text><text x="116.6" y="311.7">text[2147483647]</text>
<rect class="w" y="318.1" width="111.6" height="22.7"/><rect class="w" x="111.6" y="318.1" width="120.7" height="22.7"/><text x="5" y="334.4">subject</text><text x="116.6" y="334.4">varchar[255]</text>
<rect class="w" y="340.8" width="111.6" height="22.7"/><rect class="w" x="111.6" y="340.8" width="120.7" height="22.7"/><text x="5" y="357.1">actiontype</text><text x="116.6" y="357.1">varchar[100]</text>
<rect class="w" y="363.5" width="111.6" height="22.7"/><rect class="w" x="111.6" y="363.5" width="120.7" height="22.7"/><text x="5" y="379.8">tags</text><text x="116.6" y="379.8">text[2147483647]</text>
<rect class="w" y="386.2" width="111.6" height="22.7"/><rect class="w" x="111.6" y="386.2" width="120.7" height="22.7"/><text x="5" y="402.5">metadata</text><text x="116.6" y="402.5">text[2147483647]</text>
<rect class="w" y="408.9" width="111.6" height="22.7"/><rect class="w" x="111.6" y="408.9" width="120.7" height="22.7"/><text x="5" y="425.2">containerlink</text><text x="116.6" y="425.2">varchar[1000]</text>
<rect class="w" y="431.6" width="111.6" height="22.7"/><rect class="w" x="111.6" y="431.6" width="120.7" height="22.7"/><text x="5" y="447.9">containerlabel</text><text x="116.6" y="447.9">varchar[1000]</text>
<rect class="w" y="454.3" width="111.6" height="22.7"/><rect class="w" x="111.6" y="454.3" width="120.7" height="22.7"/><text x="5" y="470.6">authorlink</text><text x="116.6" y="470.6">varchar[1000]</text>
<rect class="w" y="477" width="111.6" height="22.7"/><rect class="w" x="111.6" y="477" width="120.7" height="22.7"/><text x="5" y="493.3">authorlabel</text><text x="116.6" y="493.3">varchar[1000]</text>
<rect class="w" y="499.7" width="111.6" height="22.7"/><rect class="w" x="111.6" y="499.7" width="120.7" height="22.7"/><text x="5" y="516">itemlink</text><text x="116.6" y="516">varchar[1000]</text>
<rect class="w" y="522.4" width="111.6" height="22.7"/><rect class="w" x="111.6" y="522.4" width="120.7" height="22.7"/><text x="5" y="538.7">itemlabel</text><text x="116.6" y="538.7">varchar[1000]</text>
<rect class="w" y="545.1" width="111.6" height="22.7"/><rect class="w" x="111.6" y="545.1" width="120.7" height="22.7"/><text x="5" y="561.4">content</text><text x="116.6" y="561.4">text[2147483647]</text>
<rect class="i" y="567.8" width="111.6" height="22.7"/><rect class="w" x="111.6" y="567.8" width="120.7" height="22.7"/><text x="5" y="584.1">creationdate</text><text x="116.6" y="584.1">int8[19]</text>
<rect class="w" y="590.5" width="51.6" height="22.7"/><rect class="w" x="51.6" y="590.5" width="60" height="22.7"/><rect class="w" x="111.6" y="590.5" width="120.7" height="22.7"/><text x="5" y="606.8">&lt; 2</text><text class="r" x="107.6" y="606.8">83 rows</text><text class="r" x="228.3" y="606.8">0 &gt;</text>
<rect x="-1.5" y="-1.5" width="235.3" height="616.2" fill="none" stroke="#111" stroke-width="3"/></g>
<g id="jiveretentionattachment" transform="translate(1103.7,1744)"><rect class="h" width="161.3" height="23"/><text class="c" x="80.65" y="16.5">jiveretentionattachment</text><rect class="w" y="23" width="161.3" height="23"/><text x="4" y="38">...</text><rect class="w" y="46" width="55" height="23"/><rect class="w" x="55" y="46" width="53.3" height="23"/><rect class="w" x="108.3" y="46" width="53" height="23"/><text x="4" y="62.5">&lt; 2</text><text class="r" x="104.3" y="62.5">0 rows</text><rect class="o" width="161.3" height="69"/></g>
<g id="jiveretentionimage" transform="translate(1114.7,1841.5)"><rect class="h" width="138.3" height="23"/><text class="c" x="69.15" y="16.5">jiveretentionimage</text><rect class="w" y="23" width="138.3" height="23"/><text x="4" y="38">...</text><rect class="w" y="46" width="44" height="23"/><rect class="w" x="44" y="46" width="52" height="23"/><rect class="w" x="96" y="46" width="42.3" height="23"/><text x="4" y="62.5">&lt; 2</text><text class="r" x="92" y="62.5">0 rows</text><rect class="o" width="138.3" height="69"/></g>
<g id="jivecrmescalationqueue" transform="translate(429,1868)"><rect class="h" width="161.7" height="23"/><text class="c" x="80.85" y="16.5">jivecrmescalationqueue</text><rect class="w" y="23" width="161.7" height="23"/><text x="4" y="38">...</text><rect class="w" y="46" width="54.7" height="23"/><rect class="w" x="54.7" y="46" width="54" height="23"/><rect class="w" x="108.7" y="46" width="53" height="23"/><text x="4" y="62.5">&lt; 1</text><text class="r" x="104.7" y="62.5">0 rows</text><text class="r" x="157.7" y="62.5">3 &gt;</text><rect class="o" width="161.7" height="69"/></g>
<g id="jivethread" transform="translate(674.7,1933.5)"><rect class="h" width="112.3" height="23"/><text class="c" x="56.15" y="16.5">jivethread</text><rect class="w" y="23" width="112.3" height="23"/><text x="4" y="38">...</text><rect class="w" y="46" width="31" height="23"/><rect class="w" x="31" y="46" width="51.3" height="23"/><rect class="w" x="82.3" y="46" width="30" height="23"/><text x="4" y="62.5">&lt; 2</text><text class="r" x="78.3" y="62.5">9 rows</text><text class="r" x="108.3" y="62.5">5 &gt;</text><rect class="o" width="112.3" height="69"/></g>
<g id="jiveretentionmessagebinaries" transform="translate(1085,1938)"><rect class="h" width="197.7" height="23"/><text class="c" x="98.85" y="16.5">jiveretentionmessagebinaries</text><rect class="w" y="23" width="197.7" height="23"/><text x="4" y="38">...</text><rect class="w" y="46" width="67" height="23"/><rect class="w" x="67" y="46" width="65.7" height="23"/><rect class="w" x="132.7" y="46" width="65" height="23"/><text x="4" y="62.5">&lt; 2</text><text class="r" x="128.7" y="62.5">0 rows</text><rect class="o" width="197.7" height="69"/></g>
<g id="jivemessageprop" transform="translate(1117,2036)"><rect class="h" width="134" height="23"/><text class="c" x="67" y="16.5">jivemessageprop</text><rect class="w" y="23" width="134" height="23"/><text x="4" y="38">...</text><rect class="w" y="46" width="41.7" height="23"/><rect class="w" x="41.7" y="46" width="52" height="23"/><rect class="w" x="93.7" y="46" width="40.3" height="23"/><text x="4" y="62.5">&lt; 1</text><text class="r" x="89.7" y="62.5">0 rows</text><rect class="o" width="134" height="69"/></g>
<g id="jivefollow" transform="translate(457,2037)"><rect class="h" width="105.7" height="23"/><text class="c" x="52.85" y="16.5">jivefollow</text><rect class="w" y="23" width="105.7" height="23"/><text x="4" y="38">...</text><rect class="w" y="46" width="31" height="23"/><rect class="w" x="31" y="46" width="52" height="23"/><rect class="w" x="83" y="46" width="22.7" height="23"/><text x="4" y="62.5">&lt; 2</text><text class="r" x="79" y="62.5">0 rows</text><rect class="o" width="105.7" height="69"/></g>
<g id="jiveanswer" transform="translate(1129,2133.7)"><rect class="h" width="109.7" height="23"/><text class="c" x="54.85" y="16.5">jiveanswer</text><rect class="w" y="23" width="109.7" height="23"/><text x="4" y="38">...</text><rect class="w" y="46" width="30" height="23"/><rect class="w" x="30" y="46" width="53" height="23"/><rect class="w" x="83" y="46" width="26.7" height="23"/><text x="4" y="62.5">&lt; 4</text><text class="r" x="79" y="62.5">0 rows</text><rect class="o" width="109.7" height="69"/></g>
<g id="jiveidea" transform="translate(453,2134.6)"><rect class="h" width="112" height="23"/><text class="c" x="56" y="16.5">jiveidea</text><rect class="w" y="23" width="112" height="23"/><text x="4" y="38">...</text><rect class="w" y="46" width="31" height="23"/><rect class="w" x="31" y="46" width="51" height="23"/><rect class="w" x="82" y="46" width="30" height="23"/><text x="4" y="62.5">&lt; 3</text><text class="r" x="78" y="62.5">0 rows</text><text class="r" x="108" y="62.5">3 &gt;</text><rect class="o" width="112" height="69"/></g>
<g id="jivequestion" transform="translate(878.7,2181.6)"><rect class="h" width="110.3" height="23"/><text class="c" x="55.15" y="16.5">jivequestion</text><rect class="w" y="23" width="110.3" height="23"/><text x="4" y="38">...</text><rect class="w" y="46" width="30" height="23"/><rect class="w" x="30" y="46" width="52.3" height="23"/><rect class="w" x="82.3" y="46" width="28" height="23"/><text x="4" y="62.5">&lt; 3</text><text class="r" x="78.3" y="62.5">0 rows</text><rect class="o" width="110.3" height="69"/></g>
<g id="jiveoutcome" transform="translate(453,2231.6)"><rect class="h" width="112.3" height="23"/><text class="c" x="56.15" y="16.5">jiveoutcome</text><rect class="w" y="23" width="112.3" height="23"/><text x="4" y="38">...</text><rect class="w" y="46" width="31.3" height="23"/><rect class="w" x="31.3" y="46" width="51" height="23"/><rect class="w" x="82.3" y="46" width="30" height="23"/><text x="4" y="62.5">&lt; 2</text><text class="r" x="78.3" y="62.5">0 rows</text><text class="r" x="108.3" y="62.5">1 &gt;</text><rect class="o" width="112.3" height="69"/></g>
<g id="jivertccollaboration" transform="translate(439.7,2329)"><rect class="h" width="139.3" height="23"/><text class="c" x="69.65" y="16.5">jivertccollaboration</text><rect class="w" y="23" width="139.3" height="23"/><text x="4" y="38">...</text><rect class="w" y="46" width="44" height="23"/><rect class="w" x="44" y="46" width="52.6" height="23"/><rect class="w" x="96.6" y="46" width="42.7" height="23"/><text x="4" y="62.5">&lt; 3</text><text class="r" x="92.6" y="62.5">0 rows</text><text class="r" x="135.3" y="62.5">2 &gt;</text><rect class="o" width="139.3" height="69"/></g>
<g id="gamificationprtcp" transform="translate(438.3,2426.8)"><rect class="h" width="142" height="23"/><text class="c" x="71" y="16.5">gamificationprtcp</text><rect class="w" y="23" width="142" height="23"/><text x="4" y="38">...</text><rect class="w" y="46" width="41" height="23"/><rect class="w" x="41" y="46" width="60.7" height="23"/><rect class="w" x="101.7" y="46" width="40.3" height="23"/><text x="4" y="62.5">&lt; 2</text><text class="r" x="97.7" y="62.5">14 rows</text><rect class="o" width="142" height="69"/></g>
<g id="jiveslide" transform="translate(458.7,2524.4)"><rect class="h" width="102.6" height="23"/><text class="c" x="51.3" y="16.5">jiveslide</text><rect class="w" y="23" width="102.6" height="23"/><text x="4" y="38">...</text><rect class="w" y="46" width="30.6" height="23"/><rect class="w" x="30.6" y="46" width="52" height="23"/><rect class="w" x="82.6" y="46" width="20" height="23"/><text x="4" y="62.5">&lt; 2</text><text class="r" x="78.6" y="62.5">0 rows</text><rect class="o" width="102.6" height="69"/></g>
<g id="jivestatuslevelpntsum" transform="translate(430.3,2622)"><rect class="h" width="157.7" height="23"/><text class="c" x="78.85" y="16.5">jivestatuslevelpntsum</text><rect class="w" y="23" width="157.7" height="23"/><text x="4" y="38">...</text><rect class="w" y="46" width="49.4" height="23"/><rect class="w" x="49.4" y="46" width="60.3" height="23"/><rect class="w" x="109.7" y="46" width="48" height="23"/><text x="4" y="62.5">&lt; 2</text><text class="r" x="105.7" y="62.5">28 rows</text><rect class="o" width="157.7" height="69"/></g>
<g id="jivetilestreamentry" transform="translate(441,2719)"><rect class="h" width="136.3" height="23"/><text class="c" x="68.15" y="16.5">jivetilestreamentry</text><rect class="w" y="23" width="136.3" height="23"/><text x="4" y="38">...</text><rect class="w" y="46" width="42.7" height="23"/><rect class="w" x="42.7" y="46" width="52.6" height="23"/><rect class="w" x="95.3" y="46" width="41" height="23"/><text x="4" y="62.5">&lt; 4</text><text class="r" x="91.3" y="62.5">0 rows</text><text class="r" x="132.3" y="62.5">1 &gt;</text><rect class="o" width="136.3" height="69"/></g>
<g id="jiveuserstatus" transform="translate(450.3,2816.5)"><rect class="h" width="118" height="23"/><text class="c" x="59" y="16.5">jiveuserstatus</text><rect class="w" y="23" width="118" height="23"/><text x="4" y="38">...</text><rect class="w" y="46" width="33.4" height="23"/><rect class="w" x="33.4" y="46" width="52" height="23"/><rect class="w" x="85.4" y="46" width="32.6" height="23"/><text x="4" y="62.5">&lt; 2</text><text class="r" x="81.4" y="62.5">0 rows</text><rect class="o" width="118" height="69"/></g>
<g id="jivevideo" transform="translate(453,2913.5)"><rect class="h" width="112.3" height="23"/><text class="c" x="56.15" y="16.5">jivevideo</text><rect class="w" y="23" width="112.3" height="23"/><text x="4" y="38">...</text><rect class="w" y="46" width="31.3" height="23"/><rect class="w" x="31.3" y="46" width="51" height="23"/><rect class="w" x="82.3" y="46" width="30" height="23"/><text x="4" y="62.5">&lt; 2</text><text class="r" x="78.3" y="62.5">0 rows</text><text class="r" x="108.3" y="62.5">1 &gt;</text><rect class="o" width="112.3" height="69"/></g>
<g id="jiveuser" transform="translate(16.7,2993.7)"><rect class="h" width="127.6" height="23"/><text class="c" x="63.8" y="16.5">jiveuser</text><rect class="w" y="23" width="127.6" height="23"/><text x="4" y="38">...</text><rect class="w" y="46" width="22" height="23"/><rect class="w" x="22" y="46" width="60" height="23"/><rect class="w" x="82" y="46" width="45.6" height="23"/><text class="r" x="78" y="62.5">49 rows</text><text class="r" x="123.6" y="62.5">127 &gt;</text><rect class="o" width="127.6" height="69"/></g>
<g id="jivecontainerapprvr" transform="translate(441,3011)"><rect class="h" width="136.3" height="23"/><text class="c" x="68.15" y="16.5">jivecontainerapprvr</text><rect class="w" y="23" width="136.3" height="23"/><text x="4" y="38">...</text><rect class="w" y="46" width="42.7" height="23"/><rect class="w" x="42.7" y="46" width="52" height="23"/><rect class="w" x="94.7" y="46" width="41.6" height="23"/><text x="4" y="62.5">&lt; 2</text><text class="r" x="90.7" y="62.5">0 rows</text><rect class="o" width="136.3" height="69"/></g>
<g id="jivecontent" transform="translate(454.3,3107.7)"><rect class="h" width="109.7" height="23"/><text class="c" x="54.85" y="16.5">jivecontent</text><rect class="w" y="23" width="109.7" height="23"/><text x="4" y="38">...</text><rect class="w" y="46" width="31" height="23"/><rect class="w" x="31" y="46" width="51.7" height="23"/><rect class="w" x="82.7" y="46" width="27" height="23"/><text x="4" y="62.5">&lt; 2</text><text class="r" x="78.7" y="62.5">0 rows</text><rect class="o" width="109.7" height="69"/></g>
<g id="jivecontentplacerel" transform="translate(439.7,3205)"><rect class="h" width="139.3" height="23"/><text class="c" x="69.65" y="16.5">jivecontentplacerel</text><rect class="w" y="23" width="139.3" height="23"/><text x="4" y="38">...</text><rect class="w" y="46" width="44" height="23"/><rect class="w" x="44" y="46" width="52.3" height="23"/><rect class="w" x="96.3" y="46" width="43" height="23"/><text x="4" y="62.5">&lt; 2</text><text class="r" x="92.3" y="62.5">0 rows</text><text class="r" x="135.3" y="62.5">1 &gt;</text><rect class="o" width="139.3" height="69"/></g>
<g id="jivedashboard" transform="translate(449,3302.3)"><rect class="h" width="120.3" height="23"/><text class="c" x="60.15" y="16.5">jivedashboard</text><rect class="w" y="23" width="120.3" height="23"/><text x="4" y="38">...</text><rect class="w" y="46" width="34.7" height="23"/><rect class="w" x="34.7" y="46" width="52.3" height="23"/><rect class="w" x="87" y="46" width="33.3" height="23"/><text x="4" y="62.5">&lt; 2</text><text class="r" x="83" y="62.5">0 rows</text><text class="r" x="116.3" y="62.5">1 &gt;</text><rect class="o" width="120.3" height="69"/></g>
<g id="jivedocument" transform="translate(450.7,3399.6)"><rect class="h" width="117.6" height="23"/><text class="c" x="58.8" y="16.5">jivedocument</text><rect class="w" y="23" width="117.6" height="23"/><text x="4" y="38">...</text><rect class="w" y="46" width="33" height="23"/><rect class="w" x="33" y="46" width="52.3" height="23"/><rect class="w" x="85.3" y="46" width="32.3" height="23"/><text x="4" y="62.5">&lt; 4</text><text class="r" x="81.3" y="62.5">9 rows</text><text class="r" x="113.6" y="62.5">9 &gt;</text><rect class="o" width="117.6" height="69"/></g>
<g id="jiveevent" transform="translate(457,3497.4)"><rect class="h" width="106" height="23"/><text class="c" x="53" y="16.5">jiveevent</text><rect class="w" y="23" width="106" height="23"/><text x="4" y="38">...</text><rect class="w" y="46" width="30.7" height="23"/><rect class="w" x="30.7" y="46" width="52.3" height="23"/><rect class="w" x="83" y="46" width="23" height="23"/><text x="4" y="62.5">&lt; 3</text><text class="r" x="79" y="62.5">0 rows</text><rect class="o" width="106" height="69"/></g>
<text x="17" y="3847">Generated by SchemaSpy</text>
</svg>
